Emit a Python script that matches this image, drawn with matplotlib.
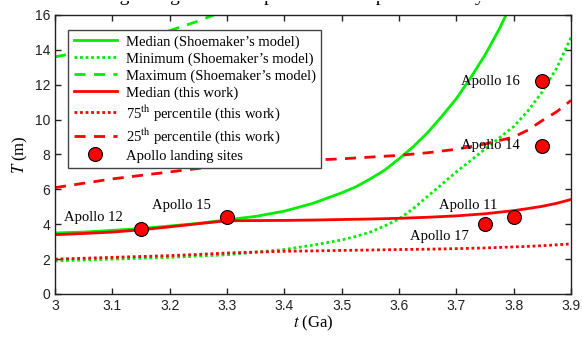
import matplotlib.pyplot as plt
from matplotlib.transforms import Bbox, TransformedBbox

plt.rcParams['font.family'] = 'Liberation Serif'
plt.rcParams['mathtext.fontset'] = 'stix'

# Shoemaker's model (green)
t_shoe = [3.0, 3.05, 3.1, 3.15, 3.2, 3.25, 3.3, 3.35, 3.4, 3.45, 3.5, 3.525, 3.55,
          3.575, 3.6, 3.625, 3.65, 3.675, 3.7, 3.725, 3.75, 3.775, 3.8]
shoe_median = [3.5, 3.55, 3.65, 3.75, 3.9, 4.05, 4.25, 4.45, 4.75, 5.2, 5.8, 6.15, 6.6,
               7.1, 7.75, 8.45, 9.25, 10.2, 11.2, 12.4, 13.7, 15.2, 16.9]
t_shoe_min = [3.0, 3.1, 3.2, 3.3, 3.4, 3.45, 3.5, 3.525, 3.55, 3.575, 3.6, 3.625,
              3.65, 3.675, 3.7, 3.725, 3.75, 3.775, 3.8, 3.825, 3.85, 3.875, 3.9]
shoe_min = [1.9, 2.0, 2.1, 2.25, 2.55, 2.8, 3.1, 3.3, 3.55, 3.9, 4.3, 4.9,
            5.6, 6.3, 7.0, 7.65, 8.3, 8.95, 9.6, 10.5, 11.6, 12.95, 14.7]
t_shoe_max = [3.0, 3.05, 3.1, 3.15, 3.2, 3.25, 3.3]
shoe_max = [13.6, 13.9, 14.2, 14.6, 15.1, 15.65, 16.3]

# this work (red)
t_work = [3.0, 3.05, 3.1, 3.15, 3.2, 3.25, 3.3, 3.35, 3.4, 3.45, 3.5, 3.55,
          3.6, 3.65, 3.7, 3.75, 3.8, 3.825, 3.85, 3.875, 3.9]
work_median = [3.4, 3.47, 3.55, 3.68, 3.85, 4.03, 4.2, 4.21, 4.22, 4.24, 4.27, 4.3,
               4.34, 4.4, 4.48, 4.6, 4.78, 4.9, 5.03, 5.2, 5.42]
work_75 = [2.0, 2.05, 2.1, 2.15, 2.2, 2.27, 2.35, 2.4, 2.45, 2.47, 2.5, 2.52,
           2.55, 2.57, 2.6, 2.64, 2.7, 2.73, 2.77, 2.82, 2.87]
work_25 = [6.1, 6.35, 6.6, 6.8, 7.0, 7.2, 7.4, 7.5, 7.6, 7.68, 7.75, 7.85,
           7.95, 8.1, 8.3, 8.6, 9.0, 9.4, 9.95, 10.45, 11.1]

# Apollo landing sites
sites = ['Apollo 12', 'Apollo 15', 'Apollo 17', 'Apollo 11', 'Apollo 14', 'Apollo 16']
site_t = [3.15, 3.3, 3.75, 3.8, 3.85, 3.85]
site_T = [3.7, 4.4, 4.0, 4.4, 8.5, 12.2]
label_pos = [(3.015, 4.4, 'left'), (3.17, 5.1, 'left'), (3.67, 3.27, 'center'),
             (3.72, 5.1, 'center'), (3.81, 8.5, 'right'), (3.81, 12.2, 'right')]

fig = plt.figure(figsize=(5.82, 3.37), dpi=100)
ax = fig.add_axes([0.0945, 0.1276, 0.8866, 0.828])

green = '#00ee00'
red = '#ff0000'
lw = 2.0
ax.plot(t_shoe, shoe_median, color=green, lw=lw, label='Median (Shoemaker\u2019s model)')
ax.plot(t_shoe_min, shoe_min, color=green, lw=lw, ls=(0, (1, 1)), label='Minimum (Shoemaker\u2019s model)')
ax.plot(t_shoe_max, shoe_max, color=green, lw=lw, ls=(0, (4, 3)), label='Maximum (Shoemaker\u2019s model)')
ax.plot(t_work, work_median, color=red, lw=lw, label='Median (this work)')
ax.plot(t_work, work_75, color=red, lw=lw, ls=(0, (1, 1)), label=r'75$^{\mathrm{th}}$ percentile (this work)')
ax.plot(t_work, work_25, color=red, lw=lw, ls=(0, (4, 3)), label=r'25$^{\mathrm{th}}$ percentile (this work)')
ax.plot(site_t, site_T, 'o', ms=10, mfc=red, mec='black', mew=0.8, label='Apollo landing sites')

for name, (lx, ly, ha) in zip(sites, label_pos):
    ax.text(lx, ly, name, ha=ha, va='center', fontsize=10.5)

ax.set_xlim(3, 3.9)
ax.set_ylim(0, 16)
ax.set_xticks([3, 3.1, 3.2, 3.3, 3.4, 3.5, 3.6, 3.7, 3.8, 3.9])
ax.set_xticklabels(['3', '3.1', '3.2', '3.3', '3.4', '3.5', '3.6', '3.7', '3.8', '3.9'])
ax.set_yticks(range(0, 17, 2))
ax.tick_params(direction='in', top=True, right=True, length=4, width=1,
               labelsize=10, colors='#222222')
for lab in ax.get_xticklabels() + ax.get_yticklabels():
    lab.set_family('Liberation Sans')
for sp in ax.spines.values():
    sp.set_linewidth(1.0)
    sp.set_color('#222222')

ax.set_xlabel(r'$t$ (Ga)', fontsize=12, labelpad=1)
ax.set_ylabel(r'$T$ (m)', fontsize=12, labelpad=3)

leg = ax.legend(loc='upper left', bbox_to_anchor=(0.026, 0.946), fontsize=10.5,
                handlelength=3.0, fancybox=False, framealpha=1, edgecolor='#444444',
                borderpad=0.35, labelspacing=0.24, handletextpad=0.6, numpoints=1,
                borderaxespad=0)
leg.get_frame().set_linewidth(1.0)

# title is cut off in the source image: only the descenders below the baseline show
y_base = 1 - 1 / 337
title = fig.text(0.5, y_base, 'Regolith growth compared with empirical history',
                 ha='center', va='baseline', fontsize=14)
title.set_clip_box(TransformedBbox(Bbox([[0, 0], [1, y_base]]), fig.transFigure))
title.set_clip_on(True)

fig.savefig('out.png', dpi=100)
